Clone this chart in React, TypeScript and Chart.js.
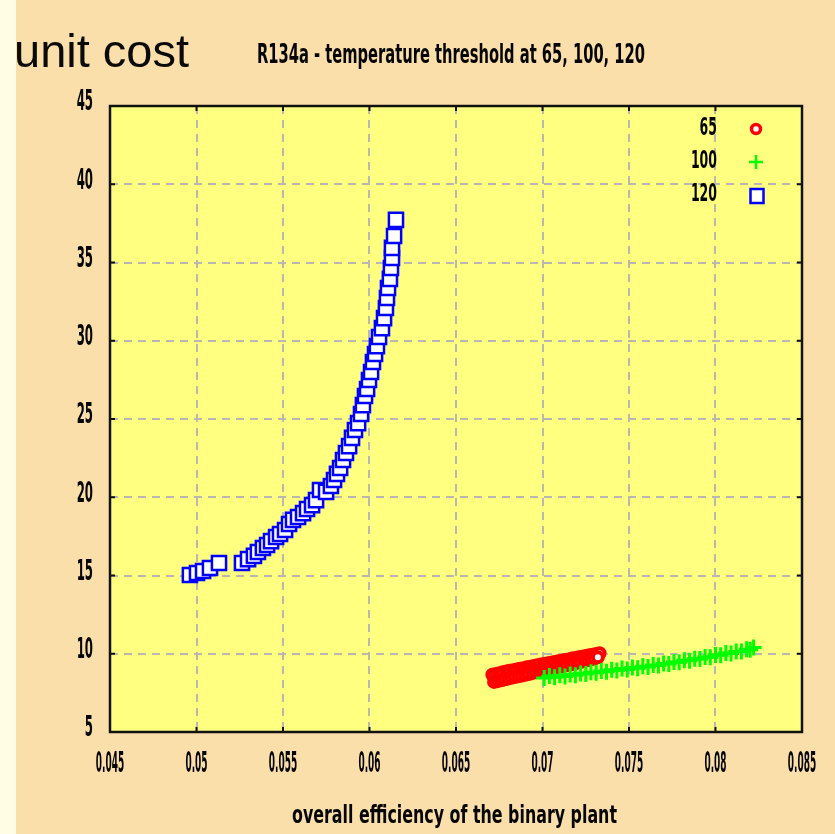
import React, { useEffect, useRef } from 'react';
import { Chart, registerables } from 'chart.js';

Chart.register(...registerables);

const chartTitle = 'unit cost';
const chartSubtitle = 'R134a - temperature threshold at 65, 100, 120';
const xAxisTitle = 'overall efficiency of the binary plant';
const xTickLabels = ['0.045', '0.05', '0.055', '0.06', '0.065', '0.07', '0.075', '0.08', '0.085'];
const yTickLabels = ['5', '10', '15', '20', '25', '30', '35', '40', '45'];
const seriesNames = ['65', '100', '120'];

const x65 = [
  0.0671, 0.0673, 0.0675, 0.0677, 0.0679, 0.0681, 0.0683, 0.0685, 0.0687, 0.0689, 0.0691, 0.0693, 0.0695, 0.0697, 0.0699, 0.0701,
  0.0703, 0.0705, 0.0707, 0.0709, 0.0711, 0.0713, 0.0715, 0.0717, 0.0719, 0.0721, 0.0723, 0.0725, 0.0727, 0.0729, 0.0731, 0.0733,
  0.0672, 0.0674, 0.0676, 0.0678, 0.068, 0.0682, 0.0684, 0.0686, 0.0688, 0.069, 0.0692, 0.0694, 0.0696, 0.0698, 0.07, 0.0702,
  0.0704, 0.0706, 0.0708, 0.071, 0.0712, 0.0714, 0.0716, 0.0718, 0.072, 0.0722, 0.0724, 0.0726, 0.0728, 0.073, 0.0732,
];
const y65 = [
  8.66, 8.71, 8.76, 8.81, 8.86, 8.91, 8.95, 8.99, 9.04, 9.08, 9.13, 9.17, 9.22, 9.26, 9.31, 9.34,
  9.39, 9.43, 9.47, 9.52, 9.56, 9.6, 9.64, 9.69, 9.73, 9.77, 9.81, 9.86, 9.9, 9.94, 9.98, 10.03,
  8.2, 8.25, 8.31, 8.36, 8.41, 8.46, 8.51, 8.56, 8.61, 8.66, 8.71, 8.76, 8.81, 8.86, 8.91, 8.96,
  9.01, 9.06, 9.11, 9.16, 9.21, 9.26, 9.31, 9.36, 9.42, 9.47, 9.53, 9.58, 9.64, 9.7, 9.77,
];

const x100 = [0.0701, 0.0704, 0.0707, 0.071, 0.0713, 0.0716, 0.0719, 0.0722, 0.0725, 0.0728, 0.0731, 0.0734, 0.0737, 0.074, 0.0743, 0.0746, 0.0749, 0.0752, 0.0755, 0.0758, 0.0761, 0.0764, 0.0767, 0.077, 0.0773, 0.0776, 0.0779, 0.0782, 0.0785, 0.0788, 0.0791, 0.0794, 0.0797, 0.08, 0.0803, 0.0806, 0.0809, 0.0812, 0.0815, 0.0818, 0.082, 0.0822];
const y100 = [8.45, 8.58, 8.5, 8.62, 8.55, 8.68, 8.62, 8.74, 8.7, 8.82, 8.78, 8.9, 8.85, 8.98, 8.93, 9.05, 9.0, 9.12, 9.08, 9.2, 9.15, 9.28, 9.25, 9.38, 9.34, 9.48, 9.45, 9.58, 9.55, 9.68, 9.66, 9.8, 9.78, 9.92, 9.9, 10.04, 10.02, 10.15, 10.14, 10.28, 10.25, 10.4];

const x120 = [0.04962, 0.05003, 0.05038, 0.05078, 0.0513, 0.05263, 0.05298, 0.05332, 0.05355, 0.05384, 0.05408, 0.05431, 0.0546, 0.05483, 0.05512, 0.05535, 0.05558, 0.05587, 0.05616, 0.05639, 0.05668, 0.05691, 0.05714, 0.05749, 0.05777, 0.05795, 0.05812, 0.0583, 0.05847, 0.05864, 0.05882, 0.05899, 0.05916, 0.05934, 0.05951, 0.05962, 0.05974, 0.05986, 0.05997, 0.06009, 0.0602, 0.06032, 0.06043, 0.06055, 0.06072, 0.06084, 0.06095, 0.06101, 0.06107, 0.06118, 0.06124, 0.0613, 0.0613, 0.06142, 0.06153];
const y120 = [15.03, 15.16, 15.29, 15.48, 15.8, 15.8, 16.05, 16.25, 16.5, 16.76, 16.95, 17.2, 17.46, 17.65, 17.91, 18.29, 18.55, 18.74, 18.99, 19.25, 19.5, 19.82, 20.46, 20.34, 20.72, 21.1, 21.49, 21.87, 22.38, 22.83, 23.27, 23.79, 24.3, 24.74, 25.32, 25.89, 26.47, 26.92, 27.49, 28.0, 28.64, 29.15, 29.66, 30.24, 30.81, 31.45, 32.09, 32.73, 33.37, 33.95, 34.65, 35.29, 35.93, 36.69, 37.72];

const zip = (xs: number[], ys: number[]) => xs.map((x, i) => ({ x, y: ys[i] }));

function drawScaled(ctx: CanvasRenderingContext2D, text: string, x: number, y: number, font: string, sx: number, align: 'left' | 'center' | 'right', baseline: CanvasTextBaseline = 'middle') {
  ctx.save();
  ctx.font = font;
  ctx.textBaseline = baseline;
  ctx.textAlign = 'left';
  const w = ctx.measureText(text).width * sx;
  const left = align === 'center' ? x - w / 2 : align === 'right' ? x - w : x;
  ctx.translate(left, y);
  ctx.scale(sx, 1);
  ctx.fillStyle = '#050505';
  ctx.fillText(text, 0, 0);
  ctx.restore();
}

function drawFit(ctx: CanvasRenderingContext2D, text: string, x0: number, x1: number, y: number, font: string) {
  ctx.save();
  ctx.font = font;
  const w = ctx.measureText(text).width;
  ctx.restore();
  drawScaled(ctx, text, x0, y, font, (x1 - x0) / w, 'left', 'alphabetic');
}

const TICK_FONT = 'bold 28px "DejaVu Sans"';

const decorPlugin = {
  id: 'decor',
  beforeDraw(chart: any) {
    const { ctx, chartArea: a, width, height } = chart;
    ctx.save();
    ctx.fillStyle = '#fbdfaa';
    ctx.fillRect(0, 0, width, height);
    ctx.fillStyle = '#fffde4';
    ctx.fillRect(0, 0, 16, height);
    ctx.fillStyle = '#ffff80';
    ctx.fillRect(a.left, a.top, a.right - a.left, a.bottom - a.top);
    ctx.restore();
  },
  afterDraw(chart: any) {
    const { ctx, chartArea: a } = chart;
    const xs = chart.scales.x;
    const ys = chart.scales.y;
    ctx.save();
    ctx.strokeStyle = '#111';
    ctx.lineWidth = 2.5;
    ctx.strokeRect(a.left, a.top, a.right - a.left, a.bottom - a.top);
    ctx.lineWidth = 2;
    xs.ticks.forEach((t: any) => {
      const px = xs.getPixelForValue(t.value);
      ctx.beginPath();
      ctx.moveTo(px, a.bottom); ctx.lineTo(px, a.bottom - 5);
      ctx.moveTo(px, a.top); ctx.lineTo(px, a.top + 5);
      ctx.stroke();
    });
    ys.ticks.forEach((t: any) => {
      const py = ys.getPixelForValue(t.value);
      ctx.beginPath();
      ctx.moveTo(a.left, py); ctx.lineTo(a.left + 5, py);
      ctx.moveTo(a.right, py); ctx.lineTo(a.right - 5, py);
      ctx.stroke();
    });
    ctx.restore();

    xs.ticks.forEach((t: any, i: number) => {
      const label = xTickLabels[i] ?? String(t.value);
      drawScaled(ctx, label, xs.getPixelForValue(t.value), 765, TICK_FONT, 0.32, 'center');
    });
    ys.ticks.forEach((t: any, i: number) => {
      const label = yTickLabels[i] ?? String(t.value);
      drawScaled(ctx, label, 93, ys.getPixelForValue(t.value) - 3, TICK_FONT, 0.42, 'right');
    });

    ctx.save();
    ctx.font = '47px "Liberation Sans"';
    ctx.fillStyle = '#0a0a0a';
    ctx.textBaseline = 'alphabetic';
    ctx.fillText(chartTitle, 14, 67);
    ctx.restore();
    drawFit(ctx, chartSubtitle, 257, 645, 63, 'bold 26px "DejaVu Sans"');
    drawFit(ctx, xAxisTitle, 292, 617, 823, 'bold 25px "DejaVu Sans"');

    const legendY = [128, 161, 194];
    seriesNames.forEach((name, i) => {
      drawScaled(ctx, name, 717, legendY[i], 'bold 25px "DejaVu Sans"', 0.5, 'right');
    });
    ctx.save();
    ctx.beginPath();
    ctx.arc(756, legendY[0] + 1, 4.5, 0, Math.PI * 2);
    ctx.fillStyle = '#ffffff';
    ctx.fill();
    ctx.strokeStyle = '#ff0000';
    ctx.lineWidth = 3.5;
    ctx.stroke();
    ctx.beginPath();
    ctx.moveTo(749, legendY[1] + 1); ctx.lineTo(763, legendY[1] + 1);
    ctx.moveTo(756, legendY[1] - 6); ctx.lineTo(756, legendY[1] + 8);
    ctx.strokeStyle = '#00ff00';
    ctx.lineWidth = 2.5;
    ctx.stroke();
    ctx.fillStyle = '#ffffff';
    ctx.fillRect(750.5, legendY[2] - 5, 13, 14);
    ctx.strokeStyle = '#0000ff';
    ctx.lineWidth = 2.5;
    ctx.strokeRect(750.5, legendY[2] - 5, 13, 14);
    ctx.restore();
  },
};

export default function App() {
  const ref = useRef<HTMLCanvasElement | null>(null);

  useEffect(() => {
    document.body.style.margin = '0';
    const canvas = ref.current;
    if (!canvas) return;
    const chart = new Chart(canvas, {
      type: 'scatter',
      data: {
        datasets: [
          {
            label: seriesNames[1],
            data: zip(x100, y100),
            pointStyle: 'cross',
            pointRadius: 8,
            borderColor: '#00ff00',
            backgroundColor: '#00ff00',
            borderWidth: 3,
          },
          {
            label: seriesNames[0],
            data: zip(x65, y65),
            pointStyle: 'circle',
            pointRadius: 5,
            borderColor: '#ff0000',
            backgroundColor: '#ffffff',
            borderWidth: 4,
          },
          {
            label: seriesNames[2],
            data: zip(x120, y120),
            pointStyle: 'rect',
            pointRadius: 10,
            borderColor: '#0000ff',
            backgroundColor: '#ffffff',
            borderWidth: 2.5,
          },
        ],
      },
      options: {
        responsive: false,
        animation: false,
        devicePixelRatio: 1,
        events: [],
        layout: { padding: { left: 0, top: 106, right: 33, bottom: 0 } },
        plugins: {
          legend: { display: false },
          title: { display: false },
          tooltip: { enabled: false },
        },
        scales: {
          x: {
            type: 'linear',
            min: 0.045,
            max: 0.085,
            ticks: { stepSize: 0.005, display: false },
            grid: { color: '#b8b8b0', lineWidth: 2, drawTicks: false },
            border: { display: false, dash: [8, 6] },
            afterFit: (s: any) => { s.height = 102; },
          },
          y: {
            type: 'linear',
            min: 5,
            max: 45,
            ticks: { stepSize: 5, display: false },
            grid: { color: '#b8b8b0', lineWidth: 2, drawTicks: false },
            border: { display: false, dash: [8, 6] },
            afterFit: (s: any) => { s.width = 110; },
          },
        },
      },
      plugins: [decorPlugin],
    } as any);
    return () => chart.destroy();
  }, []);

  return (
    <div style={{ width: 835, height: 834 }}>
      <canvas ref={ref} width={835} height={834} style={{ display: 'block', width: 835, height: 834 }} />
    </div>
  );
}
